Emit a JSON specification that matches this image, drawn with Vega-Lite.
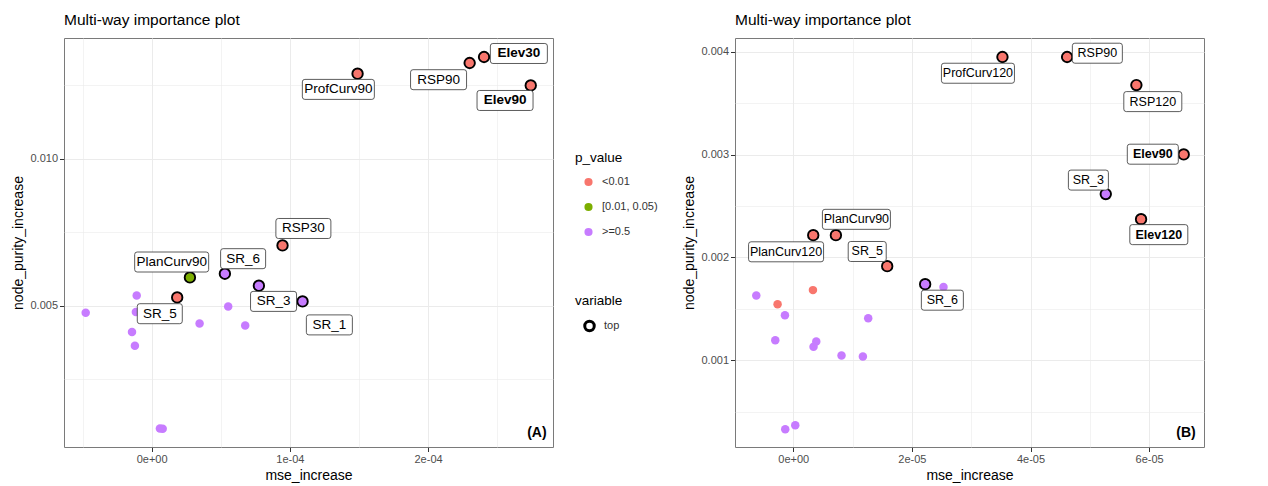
{
  "$schema": "https://vega.github.io/schema/vega-lite/v6.json",
  "background": "white",
  "padding": {"left": 11, "top": 12, "right": 5, "bottom": 0},
  "spacing": 23,
  "config": {
    "font": "Liberation Sans",
    "view": {"stroke": "#7a7a7a", "strokeWidth": 1},
    "axis": {"domain": false, "tickColor": "#333333", "tickSize": 4.5, "labelColor": "#4D4D4D", "labelFontSize": 11, "titleFontSize": 14, "titleFontWeight": "normal", "titleColor": "#000000", "labelPadding": 2, "gridColor": "#EBEBEB", "labelOverlap": false, "labelFont": "Liberation Sans", "titleFont": "Liberation Sans"},
    "axisX": {"titlePadding": 4},
    "axisY": {"titlePadding": 4},
    "legend": {"titleFontSize": 13.5, "titleFontWeight": "normal", "titleColor": "#000000", "labelFontSize": 11, "labelColor": "#333333", "padding": 0},
    "title": {"fontSize": 15.5, "fontWeight": "normal", "anchor": "start", "frame": "group", "color": "#000000", "offset": 10}
  },
  "datasets": {
    "A": [
      {"name": "Elev30", "mse_increase": 0.0002405, "node_purity_increase": 0.013459, "p_value": "<0.01", "rank": "top", "label_x": 0.0002657, "label_y": 0.013578},
      {"name": "RSP90", "mse_increase": 0.0002301, "node_purity_increase": 0.013255, "p_value": "<0.01", "rank": "top", "label_x": 0.0002076, "label_y": 0.012687},
      {"name": "Elev90", "mse_increase": 0.0002743, "node_purity_increase": 0.012493, "p_value": "<0.01", "rank": "top", "label_x": 0.0002557, "label_y": 0.011980},
      {"name": "ProfCurv90", "mse_increase": 0.0001490, "node_purity_increase": 0.012891, "p_value": "<0.01", "rank": "top", "label_x": 0.0001351, "label_y": 0.012357},
      {"name": "RSP30", "mse_increase": 0.0000947, "node_purity_increase": 0.007051, "p_value": "<0.01", "rank": "top", "label_x": 0.0001098, "label_y": 0.007626},
      {"name": "PlanCurv90", "mse_increase": 0.0000277, "node_purity_increase": 0.005963, "p_value": "[0.01, 0.05)", "rank": "top", "label_x": 0.0000145, "label_y": 0.006486},
      {"name": "SR_6", "mse_increase": 0.0000530, "node_purity_increase": 0.006088, "p_value": ">=0.5", "rank": "top", "label_x": 0.0000662, "label_y": 0.006599},
      {"name": "SR_3", "mse_increase": 0.0000776, "node_purity_increase": 0.005680, "p_value": ">=0.5", "rank": "top", "label_x": 0.0000882, "label_y": 0.005146},
      {"name": "SR_1", "mse_increase": 0.0001092, "node_purity_increase": 0.005146, "p_value": ">=0.5", "rank": "top", "label_x": 0.0001286, "label_y": 0.004347},
      {"name": "SR_5", "mse_increase": 0.0000185, "node_purity_increase": 0.005282, "p_value": "<0.01", "rank": "top", "label_x": 0.0000059, "label_y": 0.004728},
      {"name": "v11", "mse_increase": -0.0000477, "node_purity_increase": 0.004762, "p_value": ">=0.5", "rank": "other"},
      {"name": "v12", "mse_increase": -0.0000108, "node_purity_increase": 0.005350, "p_value": ">=0.5", "rank": "other"},
      {"name": "v13", "mse_increase": -0.0000114, "node_purity_increase": 0.004786, "p_value": ">=0.5", "rank": "other"},
      {"name": "v14", "mse_increase": -0.0000142, "node_purity_increase": 0.004105, "p_value": ">=0.5", "rank": "other"},
      {"name": "v15", "mse_increase": -0.0000121, "node_purity_increase": 0.003640, "p_value": ">=0.5", "rank": "other"},
      {"name": "v16", "mse_increase": 0.0000347, "node_purity_increase": 0.004398, "p_value": ">=0.5", "rank": "other"},
      {"name": "v17", "mse_increase": 0.0000554, "node_purity_increase": 0.004976, "p_value": ">=0.5", "rank": "other"},
      {"name": "v18", "mse_increase": 0.0000677, "node_purity_increase": 0.004330, "p_value": ">=0.5", "rank": "other"},
      {"name": "v19", "mse_increase": 0.0000060, "node_purity_increase": 0.000827, "p_value": ">=0.5", "rank": "other"},
      {"name": "v20", "mse_increase": 0.0000080, "node_purity_increase": 0.000816, "p_value": ">=0.5", "rank": "other"}
    ],
    "B": [
      {"name": "ProfCurv120", "mse_increase": 0.00003527, "node_purity_increase": 0.003951, "p_value": "<0.01", "rank": "top", "label_x": 0.00003114, "label_y": 0.003793},
      {"name": "RSP90", "mse_increase": 0.00004617, "node_purity_increase": 0.003951, "p_value": "<0.01", "rank": "top", "label_x": 0.00005127, "label_y": 0.003988},
      {"name": "RSP120", "mse_increase": 0.00005785, "node_purity_increase": 0.003678, "p_value": "<0.01", "rank": "top", "label_x": 0.00006062, "label_y": 0.003517},
      {"name": "Elev90", "mse_increase": 0.00006583, "node_purity_increase": 0.003003, "p_value": "<0.01", "rank": "top", "label_x": 0.00006062, "label_y": 0.003005},
      {"name": "SR_3", "mse_increase": 0.00005269, "node_purity_increase": 0.002617, "p_value": ">=0.5", "rank": "top", "label_x": 0.00004976, "label_y": 0.002753},
      {"name": "Elev120", "mse_increase": 0.00005864, "node_purity_increase": 0.002373, "p_value": "<0.01", "rank": "top", "label_x": 0.00006163, "label_y": 0.002222},
      {"name": "PlanCurv120", "mse_increase": 0.00000337, "node_purity_increase": 0.002217, "p_value": "<0.01", "rank": "top", "label_x": -0.00000121, "label_y": 0.002055},
      {"name": "PlanCurv90", "mse_increase": 0.00000719, "node_purity_increase": 0.002217, "p_value": "<0.01", "rank": "top", "label_x": 0.00001065, "label_y": 0.002371},
      {"name": "SR_5", "mse_increase": 0.00001584, "node_purity_increase": 0.001915, "p_value": "<0.01", "rank": "top", "label_x": 0.00001247, "label_y": 0.002058},
      {"name": "SR_6", "mse_increase": 0.00002224, "node_purity_increase": 0.001740, "p_value": ">=0.5", "rank": "top", "label_x": 0.00002514, "label_y": 0.001584},
      {"name": "w11", "mse_increase": 0.00002533, "node_purity_increase": 0.001713, "p_value": ">=0.5", "rank": "other"},
      {"name": "w12", "mse_increase": -0.00000623, "node_purity_increase": 0.001630, "p_value": ">=0.5", "rank": "other"},
      {"name": "w13", "mse_increase": -0.00000264, "node_purity_increase": 0.001545, "p_value": "<0.01", "rank": "other"},
      {"name": "w14", "mse_increase": 0.00000332, "node_purity_increase": 0.001682, "p_value": "<0.01", "rank": "other"},
      {"name": "w15", "mse_increase": -0.00000140, "node_purity_increase": 0.001438, "p_value": ">=0.5", "rank": "other"},
      {"name": "w16", "mse_increase": 0.00001264, "node_purity_increase": 0.001409, "p_value": ">=0.5", "rank": "other"},
      {"name": "w17", "mse_increase": -0.00000303, "node_purity_increase": 0.001195, "p_value": ">=0.5", "rank": "other"},
      {"name": "w18", "mse_increase": 0.00000342, "node_purity_increase": 0.001130, "p_value": ">=0.5", "rank": "other"},
      {"name": "w19", "mse_increase": 0.00000388, "node_purity_increase": 0.001183, "p_value": ">=0.5", "rank": "other"},
      {"name": "w20", "mse_increase": 0.00000814, "node_purity_increase": 0.001045, "p_value": ">=0.5", "rank": "other"},
      {"name": "w21", "mse_increase": 0.00001174, "node_purity_increase": 0.001036, "p_value": ">=0.5", "rank": "other"},
      {"name": "w22", "mse_increase": -0.00000135, "node_purity_increase": 0.000327, "p_value": ">=0.5", "rank": "other"},
      {"name": "w23", "mse_increase": 0.00000034, "node_purity_increase": 0.000366, "p_value": ">=0.5", "rank": "other"}
    ]
  },
  "resolve": {
    "scale": {"x": "independent", "y": "independent", "color": "independent", "stroke": "independent", "shape": "independent"},
    "legend": {"color": "independent", "stroke": "independent", "shape": "independent"}
  },
  "hconcat": [
    {
      "width": 489,
      "height": 409,
      "title": {"text": "Multi-way importance plot"},
      "data": {"name": "A"},
      "layer": [
        {
          "transform": [{"filter": "datum.rank === 'top'"}],
          "mark": {"type": "point", "filled": false, "size": 95, "strokeWidth": 2.6, "opacity": 1},
          "encoding": {
            "x": {"field": "mse_increase", "type": "quantitative", "title": "mse_increase",
              "scale": {"domain": [-0.0000634, 0.0002904], "nice": false, "zero": false},
              "axis": {"values": [-0.00005, 0, 0.00005, 0.0001, 0.00015, 0.0002, 0.00025],
                "labelExpr": "abs(datum.value/0.0001 - round(datum.value/0.0001)) < 0.001 ? replace(replace(format(datum.value, '.0e'), 'e-', 'e-0'), 'e+', 'e+0') : ''",
                "tickOpacity": {"condition": {"test": "abs(datum.value/0.0001 - round(datum.value/0.0001)) < 0.001", "value": 1}, "value": 0},
                "gridWidth": {"condition": {"test": "abs(datum.value/0.0001 - round(datum.value/0.0001)) < 0.001", "value": 1}, "value": 0.6}}},
            "y": {"field": "node_purity_increase", "type": "quantitative", "title": "node_purity_increase",
              "scale": {"domain": [0.000194, 0.014105], "nice": false, "zero": false},
              "axis": {"values": [0.0025, 0.005, 0.0075, 0.01, 0.0125],
                "labelExpr": "abs(datum.value/0.005 - round(datum.value/0.005)) < 0.001 ? format(datum.value, '.3f') : ''",
                "tickOpacity": {"condition": {"test": "abs(datum.value/0.005 - round(datum.value/0.005)) < 0.001", "value": 1}, "value": 0},
                "gridWidth": {"condition": {"test": "abs(datum.value/0.005 - round(datum.value/0.005)) < 0.001", "value": 1}, "value": 0.6}}},
            "stroke": {"field": "rank", "type": "nominal", "scale": {"domain": ["top"], "range": ["#000000"]},
              "legend": {"title": "variable", "orient": "none", "legendX": 511, "legendY": 256, "symbolType": "circle", "symbolSize": 90, "symbolStrokeWidth": 3, "symbolOffset": 8, "labelOffset": 8, "titlePadding": 12}}
          }
        },
        {
          "mark": {"type": "point", "filled": true, "size": 72, "opacity": 1},
          "encoding": {
            "x": {"field": "mse_increase", "type": "quantitative", "title": "mse_increase", "scale": {"domain": [-0.0000634, 0.0002904], "nice": false, "zero": false}},
            "y": {"field": "node_purity_increase", "type": "quantitative", "title": "node_purity_increase", "scale": {"domain": [0.000194, 0.014105], "nice": false, "zero": false}},
            "color": {"field": "p_value", "type": "nominal",
              "scale": {"domain": ["<0.01", "[0.01, 0.05)", ">=0.5"], "range": ["#F8766D", "#7CAE00", "#C77CFF"]},
              "legend": {"title": "p_value", "orient": "none", "legendX": 511, "legendY": 113, "symbolType": "circle", "symbolSize": 66, "symbolOffset": 8, "labelOffset": 8, "rowPadding": 13, "titlePadding": 12}}
          }
        },
        {
          "transform": [{"filter": "datum.rank === 'top'"}],
          "mark": {"type": "point", "filled": true, "fill": "#ffffff", "stroke": "#333333", "strokeWidth": 0.8, "size": 10000, "opacity": 1},
          "encoding": {
            "x": {"field": "label_x", "type": "quantitative", "title": "mse_increase", "scale": {"domain": [-0.0000634, 0.0002904], "nice": false, "zero": false}},
            "y": {"field": "label_y", "type": "quantitative", "title": "node_purity_increase", "scale": {"domain": [0.000194, 0.014105], "nice": false, "zero": false}},
            "shape": {"field": "name", "type": "nominal", "legend": null,
              "scale": {"domain": ["Elev30", "RSP90", "Elev90", "ProfCurv90", "RSP30", "PlanCurv90", "SR_6", "SR_3", "SR_1", "SR_5"],
                "range": [
                  "M-0.52,-0.2H0.52Q0.57,-0.2,0.57,-0.15V0.15Q0.57,0.2,0.52,0.2H-0.52Q-0.57,0.2,-0.57,0.15V-0.15Q-0.57,-0.2,-0.52,-0.2Z",
                  "M-0.51,-0.2H0.51Q0.56,-0.2,0.56,-0.15V0.15Q0.56,0.2,0.51,0.2H-0.51Q-0.56,0.2,-0.56,0.15V-0.15Q-0.56,-0.2,-0.51,-0.2Z",
                  "M-0.51,-0.2H0.51Q0.56,-0.2,0.56,-0.15V0.15Q0.56,0.2,0.51,0.2H-0.51Q-0.56,0.2,-0.56,0.15V-0.15Q-0.56,-0.2,-0.51,-0.2Z",
                  "M-0.67,-0.2H0.67Q0.72,-0.2,0.72,-0.15V0.15Q0.72,0.2,0.67,0.2H-0.67Q-0.72,0.2,-0.72,0.15V-0.15Q-0.72,-0.2,-0.67,-0.2Z",
                  "M-0.5,-0.2H0.5Q0.55,-0.2,0.55,-0.15V0.15Q0.55,0.2,0.5,0.2H-0.5Q-0.55,0.2,-0.55,0.15V-0.15Q-0.55,-0.2,-0.5,-0.2Z",
                  "M-0.69,-0.2H0.69Q0.74,-0.2,0.74,-0.15V0.15Q0.74,0.2,0.69,0.2H-0.69Q-0.74,0.2,-0.74,0.15V-0.15Q-0.74,-0.2,-0.69,-0.2Z",
                  "M-0.4,-0.2H0.4Q0.45,-0.2,0.45,-0.15V0.15Q0.45,0.2,0.4,0.2H-0.4Q-0.45,0.2,-0.45,0.15V-0.15Q-0.45,-0.2,-0.4,-0.2Z",
                  "M-0.41,-0.2H0.41Q0.46,-0.2,0.46,-0.15V0.15Q0.46,0.2,0.41,0.2H-0.41Q-0.46,0.2,-0.46,0.15V-0.15Q-0.46,-0.2,-0.41,-0.2Z",
                  "M-0.41,-0.2H0.41Q0.46,-0.2,0.46,-0.15V0.15Q0.46,0.2,0.41,0.2H-0.41Q-0.46,0.2,-0.46,0.15V-0.15Q-0.46,-0.2,-0.41,-0.2Z",
                  "M-0.4,-0.2H0.4Q0.45,-0.2,0.45,-0.15V0.15Q0.45,0.2,0.4,0.2H-0.4Q-0.45,0.2,-0.45,0.15V-0.15Q-0.45,-0.2,-0.4,-0.2Z"
                ]}}
          }
        },
        {
          "transform": [{"filter": "datum.rank === 'top' && indexof(datum.name, 'Elev') !== 0"}],
          "mark": {"type": "text", "fontSize": 13.5, "font": "Liberation Sans", "color": "#000000", "align": "center", "baseline": "middle"},
          "encoding": {
            "x": {"field": "label_x", "type": "quantitative", "title": "mse_increase", "scale": {"domain": [-0.0000634, 0.0002904], "nice": false, "zero": false}},
            "y": {"field": "label_y", "type": "quantitative", "title": "node_purity_increase", "scale": {"domain": [0.000194, 0.014105], "nice": false, "zero": false}},
            "text": {"field": "name"}
          }
        },
        {
          "transform": [{"filter": "datum.rank === 'top' && indexof(datum.name, 'Elev') === 0"}],
          "mark": {"type": "text", "fontSize": 13.5, "fontWeight": "bold", "font": "Liberation Sans", "color": "#000000", "align": "center", "baseline": "middle"},
          "encoding": {
            "x": {"field": "label_x", "type": "quantitative", "title": "mse_increase", "scale": {"domain": [-0.0000634, 0.0002904], "nice": false, "zero": false}},
            "y": {"field": "label_y", "type": "quantitative", "title": "node_purity_increase", "scale": {"domain": [0.000194, 0.014105], "nice": false, "zero": false}},
            "text": {"field": "name"}
          }
        },
        {
          "data": {"values": [{"tag": "(A)"}]},
          "mark": {"type": "text", "fontSize": 14, "fontWeight": "bold", "font": "Liberation Sans", "color": "#000000", "align": "right", "baseline": "middle"},
          "encoding": {
            "x": {"datum": 0.0002858, "type": "quantitative", "scale": {"domain": [-0.0000634, 0.0002904], "nice": false, "zero": false}},
            "y": {"datum": 0.00068, "type": "quantitative", "scale": {"domain": [0.000194, 0.014105], "nice": false, "zero": false}},
            "text": {"field": "tag"}
          }
        }
      ]
    },
    {
      "width": 469,
      "height": 409,
      "title": {"text": "Multi-way importance plot"},
      "data": {"name": "B"},
      "layer": [
        {
          "transform": [{"filter": "datum.rank === 'top'"}],
          "mark": {"type": "point", "filled": false, "size": 95, "strokeWidth": 2.6, "opacity": 1},
          "encoding": {
            "x": {"field": "mse_increase", "type": "quantitative", "title": "mse_increase",
              "scale": {"domain": [-0.00000982, 0.00006925], "nice": false, "zero": false},
              "axis": {"values": [0, 0.00001, 0.00002, 0.00003, 0.00004, 0.00005, 0.00006],
                "labelExpr": "abs(datum.value/0.00002 - round(datum.value/0.00002)) < 0.001 ? replace(replace(format(datum.value, '.0e'), 'e-', 'e-0'), 'e+', 'e+0') : ''",
                "tickOpacity": {"condition": {"test": "abs(datum.value/0.00002 - round(datum.value/0.00002)) < 0.001", "value": 1}, "value": 0},
                "gridWidth": {"condition": {"test": "abs(datum.value/0.00002 - round(datum.value/0.00002)) < 0.001", "value": 1}, "value": 0.6}}},
            "y": {"field": "node_purity_increase", "type": "quantitative", "title": "node_purity_increase",
              "scale": {"domain": [0.000155, 0.004136], "nice": false, "zero": false},
              "axis": {"values": [0.0005, 0.001, 0.0015, 0.002, 0.0025, 0.003, 0.0035, 0.004],
                "labelExpr": "abs(datum.value/0.001 - round(datum.value/0.001)) < 0.001 ? format(datum.value, '.3f') : ''",
                "tickOpacity": {"condition": {"test": "abs(datum.value/0.001 - round(datum.value/0.001)) < 0.001", "value": 1}, "value": 0},
                "gridWidth": {"condition": {"test": "abs(datum.value/0.001 - round(datum.value/0.001)) < 0.001", "value": 1}, "value": 0.6}}},
            "stroke": {"field": "rank", "type": "nominal", "scale": {"domain": ["top"], "range": ["#000000"]}, "legend": null}
          }
        },
        {
          "mark": {"type": "point", "filled": true, "size": 72, "opacity": 1},
          "encoding": {
            "x": {"field": "mse_increase", "type": "quantitative", "title": "mse_increase", "scale": {"domain": [-0.00000982, 0.00006925], "nice": false, "zero": false}},
            "y": {"field": "node_purity_increase", "type": "quantitative", "title": "node_purity_increase", "scale": {"domain": [0.000155, 0.004136], "nice": false, "zero": false}},
            "color": {"field": "p_value", "type": "nominal", "scale": {"domain": ["<0.01", "[0.01, 0.05)", ">=0.5"], "range": ["#F8766D", "#7CAE00", "#C77CFF"]}, "legend": null}
          }
        },
        {
          "transform": [{"filter": "datum.rank === 'top'"}],
          "mark": {"type": "point", "filled": true, "fill": "#ffffff", "stroke": "#333333", "strokeWidth": 0.8, "size": 10000, "opacity": 1},
          "encoding": {
            "x": {"field": "label_x", "type": "quantitative", "title": "mse_increase", "scale": {"domain": [-0.00000982, 0.00006925], "nice": false, "zero": false}},
            "y": {"field": "label_y", "type": "quantitative", "title": "node_purity_increase", "scale": {"domain": [0.000155, 0.004136], "nice": false, "zero": false}},
            "shape": {"field": "name", "type": "nominal", "legend": null,
              "scale": {"domain": ["ProfCurv120", "RSP90", "RSP120", "Elev90", "SR_3", "Elev120", "PlanCurv120", "PlanCurv90", "SR_5", "SR_6"],
                "range": [
                  "M-0.68,-0.2H0.68Q0.73,-0.2,0.73,-0.15V0.15Q0.73,0.2,0.68,0.2H-0.68Q-0.73,0.2,-0.73,0.15V-0.15Q-0.73,-0.2,-0.68,-0.2Z",
                  "M-0.45,-0.2H0.45Q0.5,-0.2,0.5,-0.15V0.15Q0.5,0.2,0.45,0.2H-0.45Q-0.5,0.2,-0.5,0.15V-0.15Q-0.5,-0.2,-0.45,-0.2Z",
                  "M-0.53,-0.2H0.53Q0.58,-0.2,0.58,-0.15V0.15Q0.58,0.2,0.53,0.2H-0.53Q-0.58,0.2,-0.58,0.15V-0.15Q-0.58,-0.2,-0.53,-0.2Z",
                  "M-0.46,-0.2H0.46Q0.51,-0.2,0.51,-0.15V0.15Q0.51,0.2,0.46,0.2H-0.46Q-0.51,0.2,-0.51,0.15V-0.15Q-0.51,-0.2,-0.46,-0.2Z",
                  "M-0.35,-0.2H0.35Q0.4,-0.2,0.4,-0.15V0.15Q0.4,0.2,0.35,0.2H-0.35Q-0.4,0.2,-0.4,0.15V-0.15Q-0.4,-0.2,-0.35,-0.2Z",
                  "M-0.53,-0.2H0.53Q0.58,-0.2,0.58,-0.15V0.15Q0.58,0.2,0.53,0.2H-0.53Q-0.58,0.2,-0.58,0.15V-0.15Q-0.58,-0.2,-0.53,-0.2Z",
                  "M-0.7,-0.2H0.7Q0.75,-0.2,0.75,-0.15V0.15Q0.75,0.2,0.7,0.2H-0.7Q-0.75,0.2,-0.75,0.15V-0.15Q-0.75,-0.2,-0.7,-0.2Z",
                  "M-0.63,-0.2H0.63Q0.68,-0.2,0.68,-0.15V0.15Q0.68,0.2,0.63,0.2H-0.63Q-0.68,0.2,-0.68,0.15V-0.15Q-0.68,-0.2,-0.63,-0.2Z",
                  "M-0.33,-0.2H0.33Q0.38,-0.2,0.38,-0.15V0.15Q0.38,0.2,0.33,0.2H-0.33Q-0.38,0.2,-0.38,0.15V-0.15Q-0.38,-0.2,-0.33,-0.2Z",
                  "M-0.37,-0.2H0.37Q0.42,-0.2,0.42,-0.15V0.15Q0.42,0.2,0.37,0.2H-0.37Q-0.42,0.2,-0.42,0.15V-0.15Q-0.42,-0.2,-0.37,-0.2Z"
                ]}}
          }
        },
        {
          "transform": [{"filter": "datum.rank === 'top' && indexof(datum.name, 'Elev') !== 0"}],
          "mark": {"type": "text", "fontSize": 12.5, "font": "Liberation Sans", "color": "#000000", "align": "center", "baseline": "middle"},
          "encoding": {
            "x": {"field": "label_x", "type": "quantitative", "title": "mse_increase", "scale": {"domain": [-0.00000982, 0.00006925], "nice": false, "zero": false}},
            "y": {"field": "label_y", "type": "quantitative", "title": "node_purity_increase", "scale": {"domain": [0.000155, 0.004136], "nice": false, "zero": false}},
            "text": {"field": "name"}
          }
        },
        {
          "transform": [{"filter": "datum.rank === 'top' && indexof(datum.name, 'Elev') === 0"}],
          "mark": {"type": "text", "fontSize": 12.5, "fontWeight": "bold", "font": "Liberation Sans", "color": "#000000", "align": "center", "baseline": "middle"},
          "encoding": {
            "x": {"field": "label_x", "type": "quantitative", "title": "mse_increase", "scale": {"domain": [-0.00000982, 0.00006925], "nice": false, "zero": false}},
            "y": {"field": "label_y", "type": "quantitative", "title": "node_purity_increase", "scale": {"domain": [0.000155, 0.004136], "nice": false, "zero": false}},
            "text": {"field": "name"}
          }
        },
        {
          "data": {"values": [{"tag": "(B)"}]},
          "mark": {"type": "text", "fontSize": 14, "fontWeight": "bold", "font": "Liberation Sans", "color": "#000000", "align": "right", "baseline": "middle"},
          "encoding": {
            "x": {"datum": 0.00006786, "type": "quantitative", "scale": {"domain": [-0.00000982, 0.00006925], "nice": false, "zero": false}},
            "y": {"datum": 0.000291, "type": "quantitative", "scale": {"domain": [0.000155, 0.004136], "nice": false, "zero": false}},
            "text": {"field": "tag"}
          }
        }
      ]
    }
  ]
}
